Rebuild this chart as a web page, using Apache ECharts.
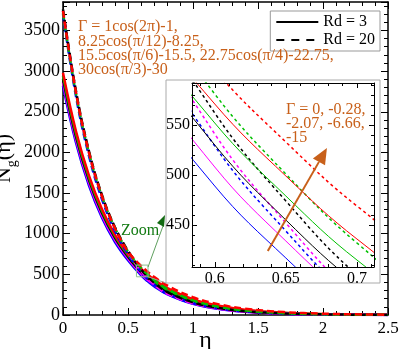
<!DOCTYPE html>
<html>
<head>
<meta charset="utf-8">
<script src="https://cdn.jsdelivr.net/npm/echarts@6/dist/echarts.min.js"></script>
<style>
  html, body {margin: 0; padding: 0; background: #fff;}
  #chart {width: 401px; height: 349px;}
</style>
</head>
<body>
<div id="chart"></div>
<script>
var eta = [0, 0.1, 0.2, 0.3, 0.4, 0.5, 0.6, 0.65, 0.7, 0.8, 1.0, 1.2, 1.4, 1.7, 2.0, 2.5]
var gammaNames = ['0', '-0.28', '-2.07', '-6.66', '-15']

// Rd = 3 (solid)
var ngRd3G0   = [2820, 2118, 1591, 1195, 897, 673, 489, 417, 355, 258, 137, 73, 39, 15, 6, 1]
var ngRd3G028 = [2860, 2156, 1625, 1225, 923, 696, 508, 434, 371, 271, 144, 77, 41, 16, 6, 1]
var ngRd3G207 = [2900, 2194, 1660, 1255, 950, 718, 530, 455, 391, 288, 157, 85, 47, 19, 8, 2]
var ngRd3G666 = [2940, 2228, 1688, 1279, 969, 734, 552, 479, 415, 312, 176, 100, 56, 24, 10, 2]
var ngRd3G15  = [2980, 2260, 1714, 1300, 986, 748, 571, 499, 436, 333, 194, 113, 66, 29, 13, 3]

// Rd = 20 (dashed)
var ngRd20G0   = [3700, 2691, 1957, 1423, 1035, 752, 529, 444, 372, 262, 144, 79, 44, 18, 7, 1]
var ngRd20G028 = [3740, 2731, 1994, 1456, 1063, 776, 541, 452, 377, 263, 145, 80, 44, 18, 7, 1]
var ngRd20G207 = [3760, 2752, 2014, 1474, 1079, 790, 562, 474, 400, 285, 157, 86, 47, 19, 8, 1]
var ngRd20G666 = [3720, 2723, 1993, 1459, 1068, 781, 581, 501, 432, 321, 180, 101, 56, 23, 9, 2]
var ngRd20G15  = [3740, 2734, 1998, 1461, 1068, 780, 605, 533, 469, 364, 218, 131, 78, 36, 16, 4]

var gammaColors = ['#0000ff', '#ff00ff', '#000000', '#00c000', '#ff0000']
var gammaText = ['\u0393 = 1cos(2\u03c0)-1,', '8.25cos(\u03c0/12)-8.25,',
  '15.5cos(\u03c0/6)-15.5, 22.75cos(\u03c0/4)-22.75,', '30cos(\u03c0/3)-30']
var insetText = ['\u0393 = 0, -0.28,', '-2.07, -6.66,', '-15']

var rd3 = [ngRd3G0, ngRd3G028, ngRd3G207, ngRd3G666, ngRd3G15]
var rd20 = [ngRd20G0, ngRd20G028, ngRd20G207, ngRd20G666, ngRd20G15]

var FONT = 'Liberation Serif'
var ORANGE = '#c8601a'

function pairs(arr){
  return eta.map(function(x, i){ return [x, arr[i]] })
}

// frame axis helper: ticks inside on every side
function frameAxis(o){
  var base = {
    type: 'value',
    axisLine: {show: true, onZero: false, lineStyle: {color: '#000', width: o.lw || 1.5}},
    axisTick: {show: true, inside: true, length: o.tick || 7, lineStyle: {color: '#000', width: 1}},
    minorTick: {show: true, splitNumber: 5, length: o.minor || 4, lineStyle: {color: '#000', width: 1}},
    splitLine: {show: false},
    axisLabel: {show: false},
    nameMoveOverlap: false
  }
  for (var k in o) { if (k != 'lw' && k != 'tick' && k != 'minor') base[k] = o[k] }
  return base
}

var chart = echarts.init(document.getElementById('chart'), null, {renderer: 'canvas'})

var series = []
// main plot curves
for (var i = 0; i < 5; i++) {
  series.push({
    type: 'line', name: 'main3_' + i, data: pairs(rd3[i]), xAxisIndex: 0, yAxisIndex: 0,
    symbol: 'none', smooth: 0.4, z: 2,
    lineStyle: {color: gammaColors[i], width: 2.5}
  })
}
for (var i = 0; i < 5; i++) {
  series.push({
    type: 'line', name: 'main20_' + i, data: pairs(rd20[i]), xAxisIndex: 0, yAxisIndex: 0,
    symbol: 'none', smooth: 0.4, z: 2,
    lineStyle: {color: gammaColors[i], width: 2.5, type: [7, 4]}
  })
}
// inset curves (same data, zoomed axes)
for (var i = 0; i < 5; i++) {
  series.push({
    type: 'line', name: 'inset3_' + i, data: pairs(rd3[i]), xAxisIndex: 2, yAxisIndex: 2,
    symbol: 'none', smooth: 0.4, z: 4,
    lineStyle: {color: gammaColors[i], width: 1}
  })
  series.push({
    type: 'line', name: 'inset20_' + i, data: pairs(rd20[i]), xAxisIndex: 2, yAxisIndex: 2,
    symbol: 'none', smooth: 0.4, z: 4,
    lineStyle: {color: gammaColors[i], width: 1.5, type: [3, 3]}
  })
}
// legend entries
series.push({type: 'line', name: 'Rd = 3', data: [], symbol: 'none', xAxisIndex: 0, yAxisIndex: 0,
  itemStyle: {color: '#000'}, lineStyle: {color: '#000', width: 1.5}})
series.push({type: 'line', name: 'Rd = 20', data: [], symbol: 'none', xAxisIndex: 0, yAxisIndex: 0,
  itemStyle: {color: '#000'}, lineStyle: {color: '#000', width: 1.5, type: [8, 7]}})

var option = {
  animation: false,
  backgroundColor: '#fff',
  grid: [
    {left: 63, top: 2, right: 13, bottom: 34, containLabel: false, outerBoundsMode: 'none'},
    {left: 192, top: 83, width: 182, height: 184, containLabel: false, outerBoundsMode: 'none'}
  ],
  legend: {
    data: ['Rd = 3', 'Rd = 20'],
    orient: 'vertical', right: 21, top: 11,
    padding: [3, 5], itemGap: 2, itemWidth: 42, itemHeight: 12,
    borderColor: '#999', borderWidth: 1, backgroundColor: '#fff',
    itemStyle: {opacity: 0},
    textStyle: {fontFamily: FONT, fontSize: 16, color: '#000'},
    selectedMode: false, z: 6
  },
  xAxis: [
    frameAxis({gridIndex: 0, min: 0, max: 2.5, interval: 0.5, position: 'bottom',
      axisLabel: {show: true, fontFamily: FONT, fontSize: 17, color: '#000', margin: 5},
      name: '\u03b7', nameLocation: 'middle', nameGap: 14,
      nameTextStyle: {fontFamily: FONT, fontSize: 24, color: '#000', padding: [0, 40, 0, 0]}}),
    frameAxis({gridIndex: 0, min: 0, max: 2.5, interval: 0.5, position: 'top'}),
    frameAxis({gridIndex: 1, min: 0.584, max: 0.712, splitNumber: 3, position: 'bottom', z: 5,
      lw: 1, tick: 5, minor: 3,
      axisLabel: {show: true, fontFamily: FONT, fontSize: 16, color: '#000', margin: 4,
        formatter: function(v){
          var r = Math.round(v * 100) / 100
          return (Math.abs(v - r) < 1e-6 && Math.round(r * 100) % 5 == 0) ? String(r) : ''
        }}}),
    frameAxis({gridIndex: 1, min: 0.584, max: 0.712, splitNumber: 3, position: 'top', z: 5,
      lw: 1, tick: 5, minor: 3})
  ],
  yAxis: [
    frameAxis({gridIndex: 0, min: 0, max: 3850, interval: 500, position: 'left',
      axisLabel: {show: true, fontFamily: FONT, fontSize: 18, color: '#000', margin: 3,
        formatter: function(v){ return v % 500 == 0 ? String(v) : '' }},
      name: '{n|N}{s|g}{n|(\u03b7)}', nameLocation: 'middle', nameGap: 44, nameRotate: 90,
      nameTextStyle: {rich: {
        n: {fontFamily: FONT, fontSize: 22, color: '#000', lineHeight: 30},
        s: {fontFamily: FONT, fontSize: 14, color: '#000', verticalAlign: 'bottom', lineHeight: 30}
      }}}),
    frameAxis({gridIndex: 0, min: 0, max: 3850, interval: 500, position: 'right'}),
    frameAxis({gridIndex: 1, min: 408, max: 592, splitNumber: 4, position: 'left', z: 5,
      lw: 1, tick: 5, minor: 3,
      axisLabel: {show: true, fontFamily: FONT, fontSize: 16, color: '#000', margin: 2,
        formatter: function(v){ return v % 50 == 0 ? String(v) : '' }}}),
    frameAxis({gridIndex: 1, min: 408, max: 592, splitNumber: 4, position: 'right', z: 5,
      lw: 1, tick: 5, minor: 3})
  ],
  series: series
}

chart.setOption(option)

// annotations: inset box, zoom marker, arrows and texts
var tail = chart.convertToPixel({gridIndex: 1}, [0.6373, 424])
var tip = chart.convertToPixel({gridIndex: 1}, [0.6789, 527])
var dx = tip[0] - tail[0], dy = tip[1] - tail[1]
var len = Math.sqrt(dx * dx + dy * dy)
dx /= len; dy /= len
var headL = 16, headW = 7
var base = [tip[0] - dx * headL, tip[1] - dy * headL]

var boxA = chart.convertToPixel({gridIndex: 0}, [0.565, 614])
var boxB = chart.convertToPixel({gridIndex: 0}, [0.654, 470])
var zoomTip = [165, 220]

var graphics = [
  {type: 'rect', z: 3, shape: {x: 166, y: 80, width: 214, height: 203},
    style: {fill: '#fff', stroke: '#aaa', lineWidth: 1}},
  {type: 'rect', z: 3, shape: {x: boxA[0], y: boxA[1], width: boxB[0] - boxA[0], height: boxB[1] - boxA[1]},
    style: {fill: 'none', stroke: '#8cc08c', lineWidth: 1}},
  {type: 'line', z: 3, shape: {x1: boxB[0], y1: boxA[1] + 2, x2: zoomTip[0] - 2, y2: zoomTip[1] + 6},
    style: {stroke: '#5fa05f', lineWidth: 1}},
  {type: 'polygon', z: 6, shape: {points: [[zoomTip[0], zoomTip[1] - 5], [zoomTip[0] - 1, zoomTip[1] + 7], [zoomTip[0] - 8, zoomTip[1] + 3]]},
    style: {fill: '#126a12'}},
  {type: 'line', z: 3, shape: {x1: boxB[0], y1: boxB[1], x2: 166, y2: 283},
    style: {stroke: '#9ab09a', lineWidth: 1}},
  {type: 'text', z: 6, x: 140, y: 231,
    style: {text: 'Zoom', fill: '#127a12', font: '16px "Liberation Serif"', textAlign: 'center', textVerticalAlign: 'middle'}},
  {type: 'line', z: 6, shape: {x1: tail[0], y1: tail[1], x2: base[0], y2: base[1]},
    style: {stroke: ORANGE, lineWidth: 2}},
  {type: 'polygon', z: 6, shape: {points: [tip,
    [base[0] - dy * headW, base[1] + dx * headW], [base[0] + dy * headW, base[1] - dx * headW]]},
    style: {fill: ORANGE}}
]
for (var j = 0; j < gammaText.length; j++) {
  graphics.push({type: 'text', z: 6, x: 78, y: 27 + j * 14.4,
    style: {text: gammaText[j], fill: ORANGE, font: '16px "Liberation Serif"', textVerticalAlign: 'middle'}})
}
for (var j = 0; j < insetText.length; j++) {
  graphics.push({type: 'text', z: 6, x: 286, y: 110 + j * 14,
    style: {text: insetText[j], fill: ORANGE, font: '16px "Liberation Serif"', textVerticalAlign: 'middle'}})
}
chart.setOption({graphic: graphics})
</script>
</body>
</html>
